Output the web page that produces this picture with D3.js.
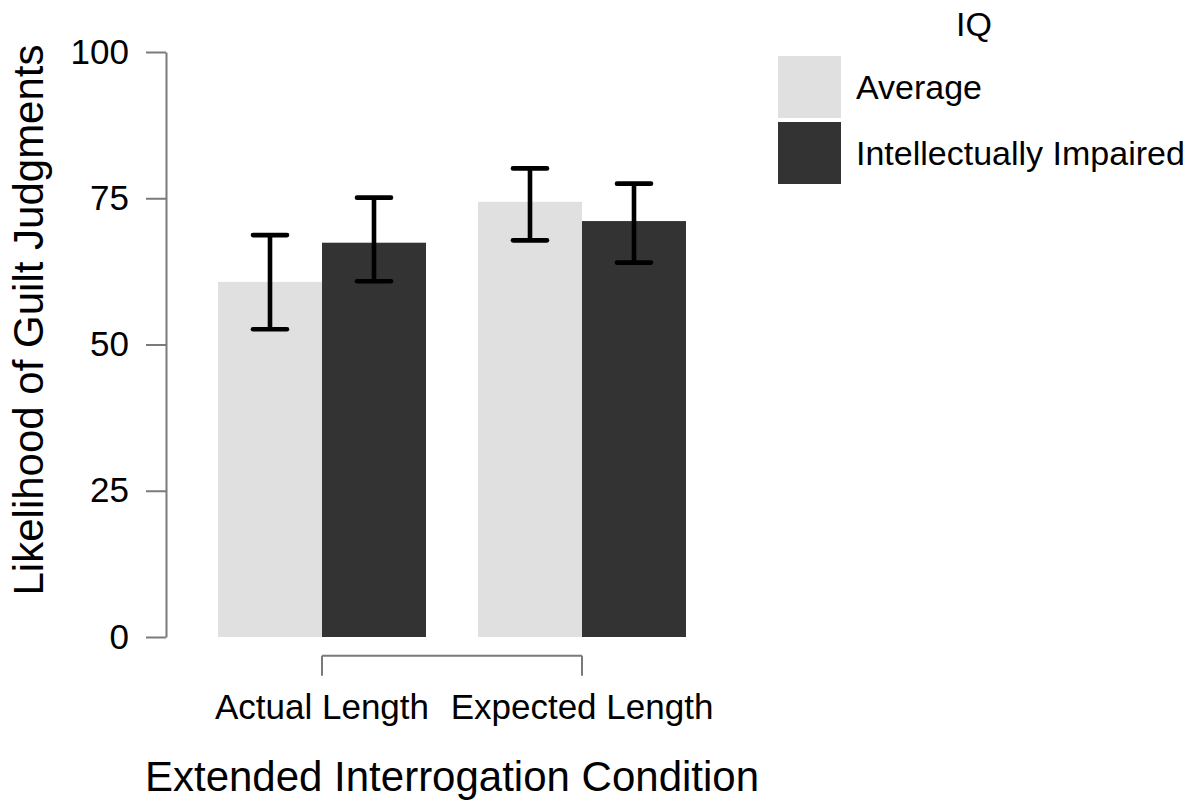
<!DOCTYPE html>
<html>
<head>
<meta charset="utf-8">
<script src="https://cdn.jsdelivr.net/npm/d3@7"></script>
<style>
  html, body { margin: 0; padding: 0; background: #fff; }
  svg { display: block; font-family: "Liberation Sans", Arial, sans-serif; }
</style>
</head>
<body>
<svg id="chart" width="1188" height="810"></svg>
<script>
// ---- data ----
const categories = ["Actual Length", "Expected Length"];
const series = ["Average", "Intellectually Impaired"];
const meanAverage = [60.7, 74.4];
const meanImpaired = [67.4, 71.1];
const lowerAverage = [52.6, 67.8];
const upperAverage = [68.7, 80.1];
const lowerImpaired = [60.8, 64.0];
const upperImpaired = [75.1, 77.5];
const yTicks = [0, 25, 50, 75, 100];
const colors = ["#e0e0e0", "#333333"];
const yTitle = "Likelihood of Guilt Judgments";
const xTitle = "Extended Interrogation Condition";
const legendTitle = "IQ";

const rows = [];
categories.forEach((c, i) => {
  rows.push({cat: c, s: series[0], mean: meanAverage[i], lo: lowerAverage[i], hi: upperAverage[i]});
  rows.push({cat: c, s: series[1], mean: meanImpaired[i], lo: lowerImpaired[i], hi: upperImpaired[i]});
});

const svg = d3.select("#chart");
const axisColor = "#7a7a7a";

const y = d3.scaleLinear().domain([0, 100]).range([637, 52]);
const x = d3.scaleBand().domain(categories).range([192, 712]).paddingInner(0.2).paddingOuter(0.1);
const xs = d3.scaleBand().domain(series).range([0, x.bandwidth()]);
const color = d3.scaleOrdinal().domain(series).range(colors);

// bars
svg.append("g").selectAll("rect").data(rows).join("rect")
  .attr("x", d => x(d.cat) + xs(d.s))
  .attr("y", d => y(d.mean))
  .attr("width", xs.bandwidth())
  .attr("height", d => y(0) - y(d.mean))
  .attr("fill", d => color(d.s));

// error bars
const capHalf = 17;
const eb = svg.append("g").attr("stroke", "#000").attr("stroke-width", 4.6).attr("fill", "none");
rows.forEach(d => {
  const cx = x(d.cat) + xs(d.s) + xs.bandwidth() / 2;
  eb.append("line").attr("x1", cx).attr("x2", cx).attr("y1", y(d.hi)).attr("y2", y(d.lo));
  eb.append("line").attr("x1", cx - capHalf).attr("x2", cx + capHalf).attr("y1", y(d.hi)).attr("y2", y(d.hi)).attr("stroke-linecap", "round");
  eb.append("line").attr("x1", cx - capHalf).attr("x2", cx + capHalf).attr("y1", y(d.lo)).attr("y2", y(d.lo)).attr("stroke-linecap", "round");
});

// y axis
const yAxis = svg.append("g").attr("transform", "translate(166,0)")
  .call(d3.axisLeft(y).tickValues(yTicks).tickSize(20).tickSizeOuter(0).tickPadding(17));
yAxis.select(".domain").attr("stroke", axisColor).attr("stroke-width", 2);
yAxis.selectAll(".tick line").attr("stroke", axisColor).attr("stroke-width", 2);
yAxis.selectAll(".tick text").attr("font-size", 35).attr("fill", "#000")
  .attr("font-family", "'Liberation Sans', Arial, sans-serif");

// x axis (range frame from first to last category)
const xAxisY = 655.7;
const xAxis = svg.append("g").attr("transform", `translate(0,${xAxisY})`)
  .call(d3.axisBottom(x).tickSize(20).tickSizeOuter(0).tickPadding(18));
const c0 = x(categories[0]) + x.bandwidth() / 2;
const c1 = x(categories[categories.length - 1]) + x.bandwidth() / 2;
xAxis.select(".domain").attr("d", `M${c0},0H${c1}`).attr("stroke", axisColor).attr("stroke-width", 2);
xAxis.selectAll(".tick line").attr("stroke", axisColor).attr("stroke-width", 2);
xAxis.selectAll(".tick text").attr("font-size", 35).attr("fill", "#000")
  .attr("font-family", "'Liberation Sans', Arial, sans-serif");

// axis titles
svg.append("text")
  .attr("transform", "translate(43,320) rotate(-90)")
  .attr("text-anchor", "middle")
  .attr("font-size", 42)
  .attr("fill", "#000")
  .text(yTitle);

svg.append("text")
  .attr("x", 452).attr("y", 791)
  .attr("text-anchor", "middle")
  .attr("font-size", 42)
  .attr("fill", "#000")
  .text(xTitle);

// legend
const lg = svg.append("g");
lg.append("text").attr("x", 974).attr("y", 36).attr("text-anchor", "middle")
  .attr("font-size", 34).attr("fill", "#000").text(legendTitle);
const keyY = [56, 122];
series.forEach((s, i) => {
  lg.append("rect").attr("x", 778).attr("y", keyY[i]).attr("width", 63).attr("height", 62)
    .attr("fill", color(s));
  lg.append("text").attr("x", 856).attr("y", keyY[i] + 31).attr("dy", "0.35em")
    .attr("font-size", 34).attr("fill", "#000").text(s);
});
</script>
</body>
</html>
